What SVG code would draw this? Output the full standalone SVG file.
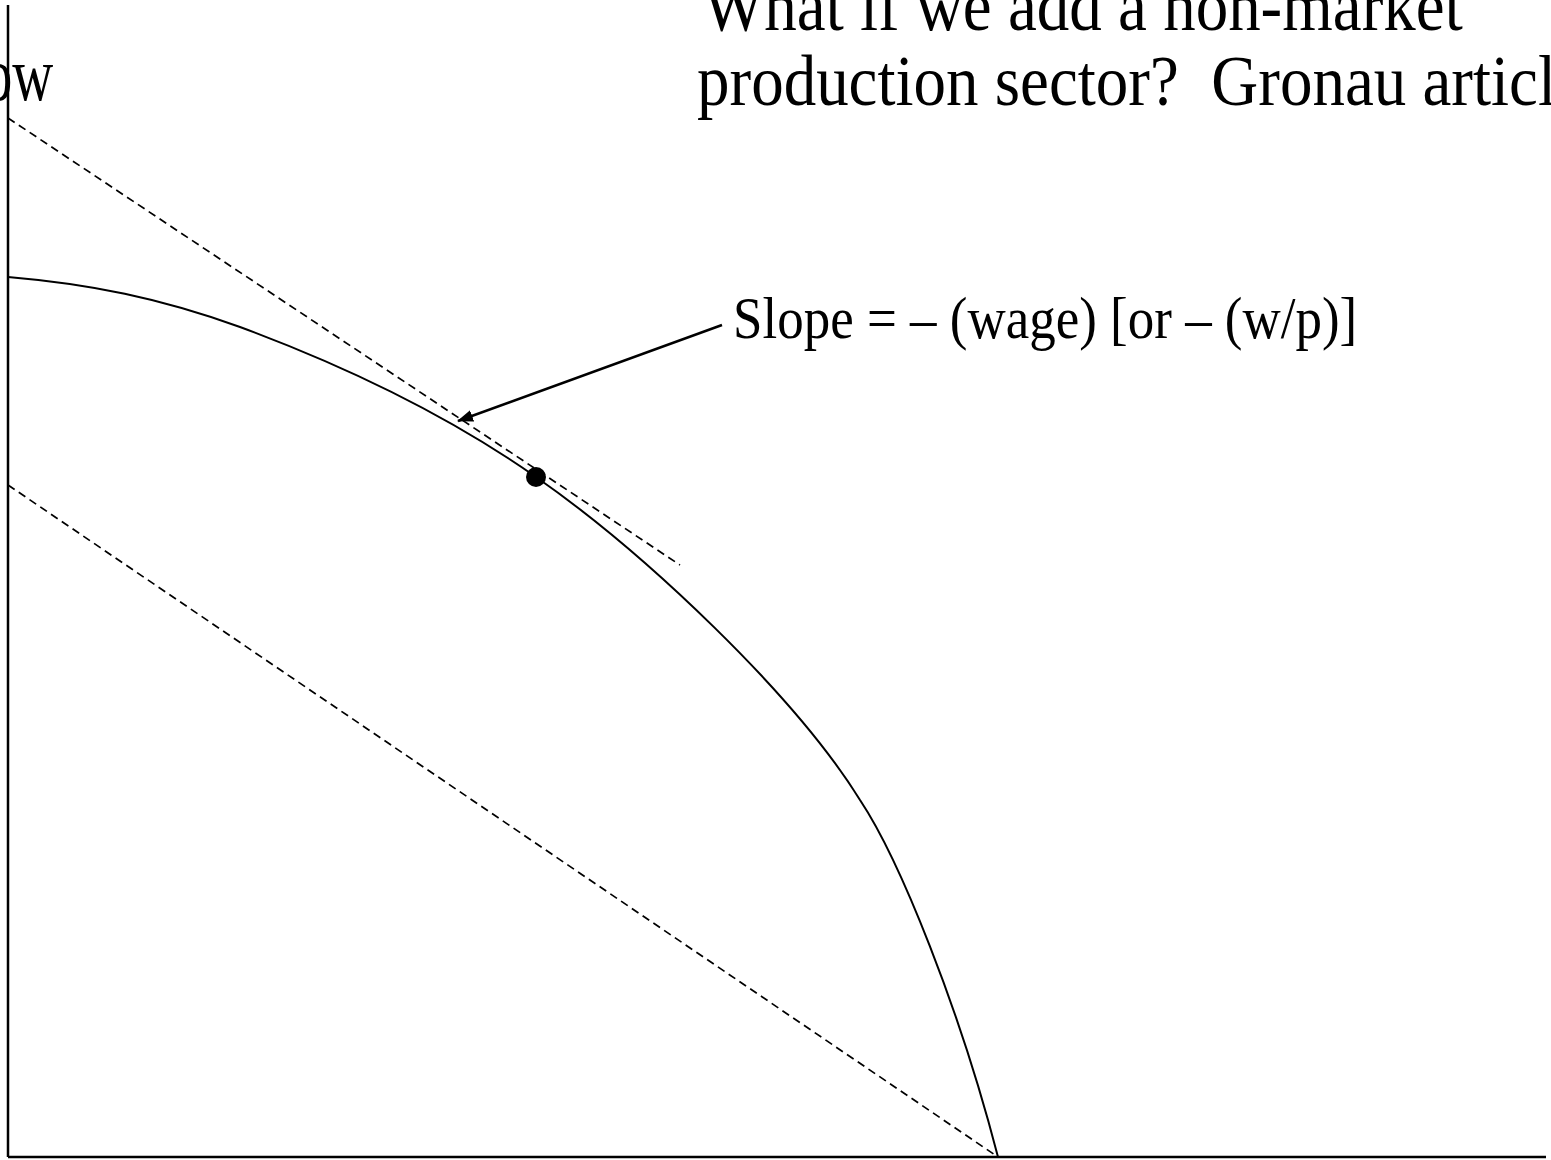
<svg xmlns="http://www.w3.org/2000/svg" width="1551" height="1160" viewBox="0 0 1551 1160">
<style>
.t{font-family:"Liberation Serif","Times New Roman",serif;fill:#000;white-space:pre}
.ax{stroke:#000;stroke-width:2.5;fill:none}
.dash{stroke:#000;stroke-width:1.7;stroke-dasharray:8,5;fill:none}
.crv{stroke:#000;stroke-width:2;fill:none}
</style>
<defs>
<marker id="ah" markerWidth="16" markerHeight="12" refX="15" refY="6" orient="auto" markerUnits="userSpaceOnUse">
<path d="M0,0 L16,6 L0,12 z" fill="#000"/>
</marker>
</defs>
<rect width="1551" height="1160" fill="#fff"/>
<g id="axes">
<line class="ax" x1="8" y1="5" x2="8" y2="1157"/>
<line class="ax" x1="8" y1="1157" x2="1546" y2="1157"/>
</g>
<g id="texts">
<text class="t" transform="translate(-16,100) scale(0.9,1.2)" font-size="63">ow</text>
<text class="t" transform="translate(703,30) scale(1,1.12)" font-size="65">What if we add a non-market</text>
<text class="t" transform="translate(697,105) scale(1,1.12)" font-size="65" xml:space="preserve">production sector?  Gronau article</text>
</g>
<g id="curve">
<path class="crv" d="M8,277 C90,284 160,298 240,327 C340,364 446,414 536,477 C645,553 795,695 860,800 C900,860 960,1010 998,1157"/>
</g>
<g id="connectors">
<line class="dash" x1="8" y1="118" x2="680" y2="565"/>
<line class="dash" x1="8" y1="485" x2="998" y2="1157"/>
<line x1="722" y1="325" x2="458" y2="421" stroke="#000" stroke-width="2.5" marker-end="url(#ah)"/>
</g>
<g id="point">
<circle cx="536" cy="477" r="10" fill="#000"/>
</g>
<g id="label">
<text class="t" transform="translate(733,338) scale(1,1.12)" font-size="53" xml:space="preserve">Slope = – (wage) [or – (w/p)]</text>
</g>
</svg>
